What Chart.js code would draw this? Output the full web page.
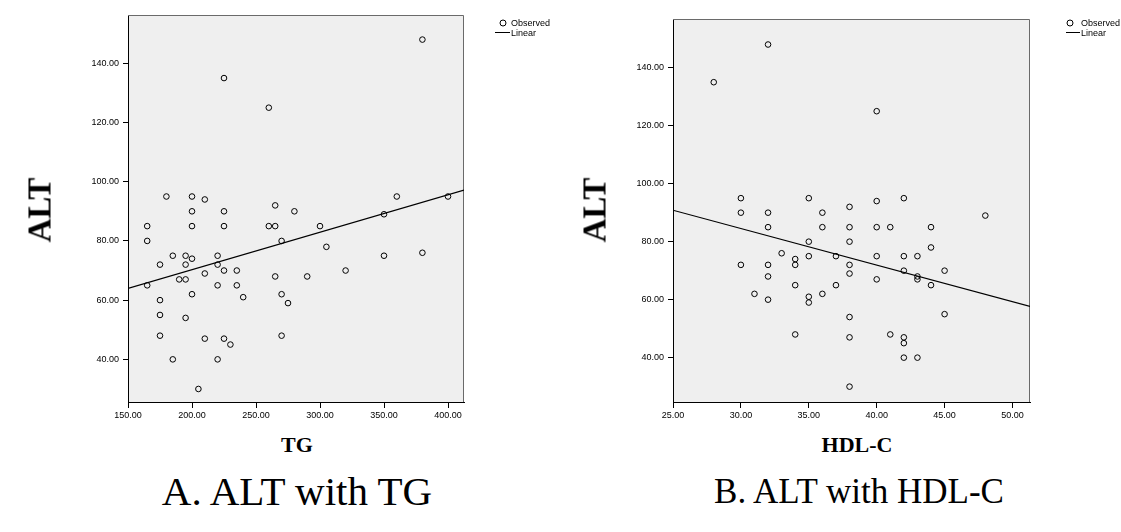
<!DOCTYPE html>
<html><head><meta charset="utf-8">
<script src="https://cdn.jsdelivr.net/npm/chart.js@4.4.1/dist/chart.umd.min.js"></script>
<style>
html,body{margin:0;padding:0;background:#fff;width:1121px;height:532px;overflow:hidden;position:relative;}
canvas{position:absolute;top:0;}
.t{position:absolute;white-space:nowrap;line-height:1;color:#000;}
.ytitle{font-family:"Liberation Serif","Times New Roman",serif;font-weight:bold;font-size:33px;transform:translate(-50%,-50%) rotate(-90deg);}
.xtitle{font-family:"Liberation Serif","Times New Roman",serif;font-weight:bold;font-size:22px;transform:translate(-50%,-50%);}
.cap{font-family:"Liberation Serif","Times New Roman",serif;transform:translate(-50%,-50%);}
.lg{font-family:"Liberation Sans",Arial,sans-serif;font-size:9px;transform:translateY(-50%);}
.circ{position:absolute;width:5px;height:5px;border:1px solid #000;border-radius:50%;transform:translate(-50%,-50%);}
.ln{position:absolute;height:1px;background:#000;}
</style>
</head><body>
<canvas id="c1" width="560" height="420" style="left:0px;width:560px;height:420px"></canvas>
<canvas id="c2" width="561" height="420" style="left:560px;width:561px;height:420px"></canvas>

<div class="t ytitle" style="left:40px;top:210px">ALT</div>
<div class="t ytitle" style="left:595px;top:210px">ALT</div>
<div class="t xtitle" style="left:297px;top:445px">TG</div>
<div class="t xtitle" style="left:857px;top:445px">HDL-C</div>
<div class="t cap" style="left:297px;top:491px;font-size:41px">A. ALT with TG</div>
<div class="t cap" style="left:859px;top:491px;font-size:35px">B. ALT with HDL-C</div>

<div class="circ" style="left:502.5px;top:22.5px"></div>
<div class="t lg" style="left:511px;top:22.5px">Observed</div>
<div class="ln" style="left:495px;top:32px;width:15px"></div>
<div class="t lg" style="left:511px;top:32.5px">Linear</div>

<div class="circ" style="left:1070px;top:22.5px"></div>
<div class="t lg" style="left:1081px;top:22.5px">Observed</div>
<div class="ln" style="left:1066px;top:32px;width:14px"></div>
<div class="t lg" style="left:1081px;top:32.5px">Linear</div>

<script>
// ---- Data: A. ALT with TG ----
const tgValues  = [225,260,380,180,200,210,265,280,200,225,360,400,165,200,225,260,265,300,165,270,185,195,220,200,175,195,220,210,225,235,190,195,165,220,235,265,270,275,240,200,175,175,195,175,210,225,230,270,185,220,205,350,305,350,380,290,320];
const tgALT     = [135,125,148, 95, 95, 94, 92, 90, 90, 90, 95, 95, 85, 85, 85, 85, 85, 85, 80, 80, 75, 75, 75, 74, 72, 72, 72, 69, 70, 70, 67, 67, 65, 65, 65, 68, 62, 59, 61, 62, 60, 55, 54, 48, 47, 47, 45, 48, 40, 40, 30, 89, 78, 75, 76, 68, 70];
const tgFit     = [45.0, 0.1265];          // intercept, slope
const tgXRange  = [150, 412.5];
const tgYRange  = [25.6, 156.3];
const tgXTicks  = [150,200,250,300,350,400];
const tgYTicks  = [40,60,80,100,120,140];

// ---- Data: B. ALT with HDL-C ----
const hdlValues = [32,28,30,35,38,40,40,42,30,32,36,32,36,38,35,38,33,34,34,35,37,30,32,38,38,32,34,37,31,32,35,35,36,38,34,38,38,48,40,41,44,44,40,42,43,42,45,43,43,40,44,45,41,42,42,42,43];
const hdlALT    = [148,135,95,95,92,125,94,95,90,90,90,85,85,85,80,80,76,74,72,75,75,72,72,72,69,68,65,65,62,60,61,59,62,54,48,47,30,89,85,85,85,78,75,75,75,70,70,68,67,67,65,55,48,47,45,40,40];
const hdlFit    = [122.4, -1.262];
const hdlXRange = [25, 51.29];
const hdlYRange = [24.7, 156.8];
const hdlXTicks = [25,30,35,40,45,50];
const hdlYTicks = [40,60,80,100,120,140];

const tickFont = {family:'"Liberation Sans", Arial, sans-serif', size:9};

const bgPlugin = {
  id:'bgFrame',
  beforeDatasetsDraw(chart){
    const {ctx, chartArea:a} = chart;
    ctx.save();
    ctx.strokeStyle = '#6a6a6a';
    ctx.lineWidth = 1;
    ctx.beginPath();
    ctx.moveTo(a.left, a.top+0.5); ctx.lineTo(a.right-0.5, a.top+0.5); ctx.lineTo(a.right-0.5, a.bottom);
    ctx.stroke();
    ctx.restore();
  },
  beforeDraw(chart){
    const {ctx, chartArea:a} = chart;
    ctx.save();
    ctx.fillStyle = '#efefef';
    ctx.fillRect(a.left, a.top, a.width, a.height);
    ctx.restore();
  }
};

function makeChart(id, xs, ys, fit, xr, yr, xt, yt, pad){
  const pts = xs.map((x,i)=>({x:x, y:ys[i]}));
  const line = [xr[0], xr[1]].map(x=>({x:x, y:fit[0]+fit[1]*x}));
  return new Chart(document.getElementById(id), {
    type:'scatter',
    data:{datasets:[
      {label:'Observed', data:pts, pointRadius:2.8, pointBorderWidth:1, pointBorderColor:'#000', pointBackgroundColor:'rgba(0,0,0,0)', pointHoverRadius:2.8},
      {label:'Linear', data:line, showLine:true, pointRadius:0, borderColor:'#000', borderWidth:1.2, fill:false}
    ]},
    options:{
      responsive:false, animation:false, devicePixelRatio:1,
      layout:{padding:pad},
      plugins:{legend:{display:false}, tooltip:{enabled:false}},
      scales:{
        x:{type:'linear', min:xr[0], max:xr[1],
           afterBuildTicks:s=>{s.ticks = xt.map(v=>({value:v}));},
           afterFit:s=>{s.height=18;},
           grid:{display:true, drawOnChartArea:false, drawTicks:true, tickLength:6, color:'#000', lineWidth:1},
           border:{display:true, color:'#000', width:1},
           ticks:{color:'#000', font:tickFont, padding:2, maxRotation:0, autoSkip:false, callback:v=>Number(v).toFixed(2)}},
        y:{type:'linear', min:yr[0], max:yr[1],
           afterBuildTicks:s=>{s.ticks = yt.map(v=>({value:v}));},
           afterFit:s=>{s.width=50;},
           grid:{display:true, drawOnChartArea:false, drawTicks:true, tickLength:5, color:'#000', lineWidth:1},
           border:{display:true, color:'#000', width:1},
           ticks:{color:'#000', font:tickFont, padding:4, autoSkip:false, callback:v=>Number(v).toFixed(2)}}
      }
    },
    plugins:[bgPlugin]
  });
}

makeChart('c1', tgValues, tgALT, tgFit, tgXRange, tgYRange, tgXTicks, tgYTicks, {left:78, top:15, right:96, bottom:0});
makeChart('c2', hdlValues, hdlALT, hdlFit, hdlXRange, hdlYRange, hdlXTicks, hdlYTicks, {left:63, top:19, right:91, bottom:0});
</script>
</body></html>
